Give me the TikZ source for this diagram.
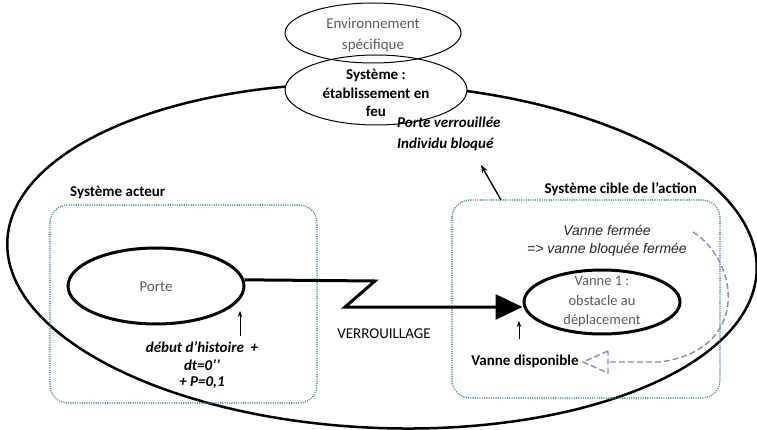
\documentclass[tikz,border=0pt]{standalone}
\usepackage{fontspec}
\setmainfont{Carlito}
\newfontfamily\arialfont{Liberation Sans}
\usetikzlibrary{arrows.meta,shapes.geometric}
\definecolor{greytxt}{RGB}{89,89,89}
\definecolor{dotteal}{RGB}{49,132,155}
\definecolor{lav}{RGB}{150,128,200}
\begin{document}
\begin{tikzpicture}[x=1pt,y=-1pt,
  every node/.style={font=\fontsize{15}{21.5}\selectfont, inner sep=0pt},
  thinell/.style={draw, ellipse, line width=1pt, inner sep=0pt},
  thickell/.style={draw, ellipse, line width=3pt, inner sep=0pt},
  bigell/.style={line width=2.5pt},
  dotbox/.style={draw=dotteal, line width=1.6pt, dash pattern=on 0pt off 2.3pt, line cap=round, rounded corners=18pt},
  boldlbl/.style={font=\fontsize{15}{21.5}\selectfont\bfseries},
  bilbl/.style={font=\fontsize{15}{21.5}\selectfont\bfseries\itshape},
  smallarr/.style={line width=0.8pt, -{Stealth[length=6pt,width=4.5pt]}},
  purp/.style={draw=lav, line width=1.4pt, dash pattern=on 6pt off 3pt}
]
\useasboundingbox (0,0) rectangle (757,430);

% big system ellipse
\draw[bigell, rotate around={-2.3:(382,256)}] (382,256) ellipse [x radius=375, y radius=172];

% dotted boxes
\draw[dotbox] (50,205) rectangle (317,403);
\draw[dotbox] (452,200) rectangle (720,398);

% top ellipses
\node[thinell, fill=white, minimum width=182pt, minimum height=70pt] (sys) at (376,90) {};
\node[align=center, font=\fontsize{15}{18.5}\selectfont\bfseries] (systxt) at (376,93) {Système :\\établissement en\\feu};
\node[thinell, minimum width=176pt, minimum height=60pt] (env) at (373,33) {};
\node[align=center, text=greytxt] (envtxt) at (373,35) {Environnement\\spécifique};

% Porte verrouillee label
\node[bilbl, align=left, anchor=west] (pv) at (397,134) {Porte verrouillée\\Individu bloqué};
\coordinate (pvtip) at (481,165);
\coordinate (cibtop) at (501,200);
\draw[line width=1.4pt, -{Stealth[length=8pt,width=6pt]}] (cibtop) -- (pvtip);

% box labels
\node[boldlbl, anchor=west] (lact) at (70,193) {Système acteur};
\node[boldlbl, anchor=east] (lcib) at (697,189) {Système cible de l’action};

% Porte
\node[thickell, minimum width=176pt, minimum height=76pt] (porte) at (156,286) {};
\node[text=greytxt] (portetxt) at (156,287) {Porte};

% Vanne
\node[thickell, minimum width=156pt, minimum height=64pt] (vanne) at (602,302) {};
\node[align=center, text=greytxt, font=\fontsize{14.5}{19.5}\selectfont] (vannetxt) at (602,302) {Vanne 1 :\\obstacle au\\déplacement};

% zigzag connector
\coordinate (z1) at (375,281);
\coordinate (z2) at (345,307);
\draw[line width=3pt, line join=miter, -{Triangle[length=27pt,width=25pt]}] (porte.4) -- (z1) -- (z2) -- (z2 -| vanne.west);
\node (verr) at (384,334) {VERROUILLAGE};

% debut d'histoire
\coordinate (da) at (240,336);
\coordinate (db) at (240,311);
\draw[smallarr] (da) -- (db);
\node[bilbl] (dh1) at (202,347) {début d’histoire~ +};
\node[bilbl] (dh2) at (202,365) {dt=0’’};
\node[bilbl] (dh3) at (202,383) {+ P=0,1};

% vanne disponible
\coordinate (va) at (519,339);
\coordinate (vb) at (519,321);
\draw[smallarr] (va) -- (vb);
\node[boldlbl] (vdisp) at (525,361) {Vanne disponible};

% vanne fermee
\node[font=\fontsize{14}{18}\selectfont\arialfont\itshape, text=black!85, align=center] (vf) at (607,241) {Vanne fermée\\=> vanne bloquée fermée};

% purple dashed arrow
\coordinate (ps) at (693,232);
\coordinate (pc) at (660,362);
\coordinate (pb) at (608,362);
\coordinate (pt) at (583,362);
\draw[purp] (ps) .. controls (740,262) and (750,350) .. (pc) -- (pb);
\draw[purp, line join=miter] (608,351) -- (pt) -- (608,373) -- cycle;
\end{tikzpicture}
\end{document}
